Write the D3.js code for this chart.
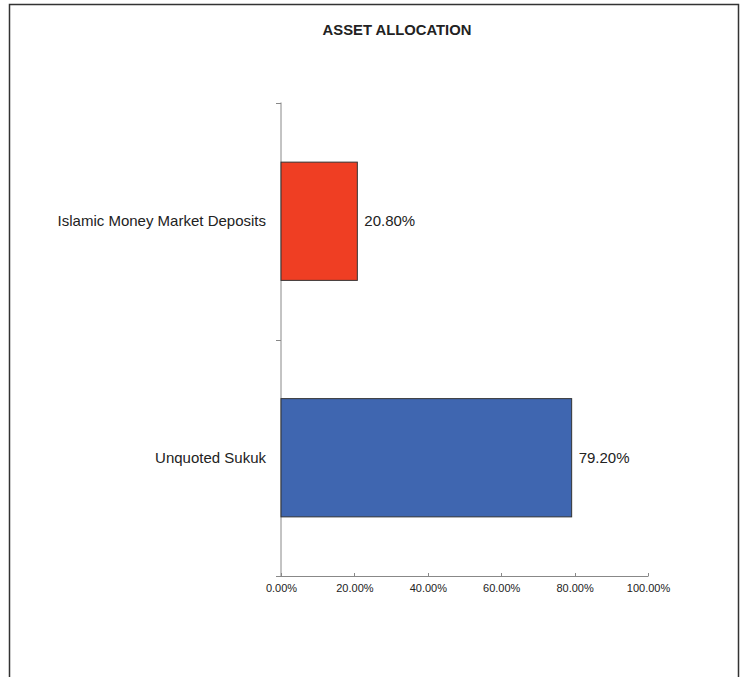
<!DOCTYPE html>
<html><head><meta charset="utf-8">
<script src="https://cdn.jsdelivr.net/npm/d3@7"></script>
<style>body{margin:0;background:#fff}svg{display:block;font-family:"Liberation Sans",Arial,sans-serif}</style>
</head><body>
<script>
const title = "ASSET ALLOCATION";
const categories = ["Islamic Money Market Deposits", "Unquoted Sukuk"];
const values = [20.80, 79.20];
const barColors = ["#EF3E23", "#3F66B0"];
const tickValues = [0, 20, 40, 60, 80, 100];

const W = 744, H = 677;
const svg = d3.select("body").append("svg").attr("width", W).attr("height", H);

svg.append("path").attr("d", `M9.5,${H} V4.5 H738.5 V${H}`).attr("fill","none").attr("stroke","#333").attr("stroke-width",1.5);

svg.append("text").attr("x", 397).attr("y", 35).attr("text-anchor","middle")
  .attr("font-weight","bold").attr("font-size",14.8).attr("fill","#222").text(title);

const x = d3.scaleLinear().domain([0,100]).range([281, 648]);
const y = d3.scaleBand().domain(categories).range([103, 576]).paddingInner(0.5).paddingOuter(0.25);

// y axis
svg.append("line").attr("x1",281).attr("x2",281).attr("y1",102.5).attr("y2",576).attr("stroke","#888");
const yTicks = [103, (103+576)/2, 576];
yTicks.forEach(t => svg.append("line").attr("x1",276).attr("x2",281).attr("y1",Math.round(t)+0.5).attr("y2",Math.round(t)+0.5).attr("stroke","#888"));

// x axis
const xAxis = d3.axisBottom(x).tickValues(tickValues).tickSize(0).tickFormat(d => d.toFixed(2) + "%");
const gx = svg.append("g").attr("transform","translate(0,576)").call(xAxis);
gx.select(".domain").attr("stroke","#888").attr("d","M276,0.5H648.5");
gx.selectAll(".tick text").attr("font-size",11).attr("fill","#222").attr("dy","0").attr("y",16).attr("font-family","Liberation Sans, Arial, sans-serif");
tickValues.forEach(v => svg.append("line").attr("x1",Math.round(x(v))+0.5).attr("x2",Math.round(x(v))+0.5).attr("y1",573).attr("y2",576).attr("stroke","#888"));

// bars
svg.selectAll("rect.bar").data(categories).enter().append("rect")
  .attr("x", x(0)).attr("y", d => y(d))
  .attr("width", (d,i) => x(values[i]) - x(0)).attr("height", y.bandwidth())
  .attr("fill", (d,i) => barColors[i]).attr("stroke","#333").attr("stroke-width",1);

// value labels
svg.selectAll("text.val").data(categories).enter().append("text")
  .attr("x", (d,i) => x(values[i]) + 7).attr("y", d => y(d) + y.bandwidth()/2 + 5)
  .attr("font-size",15).attr("fill","#222").text((d,i) => values[i].toFixed(2) + "%");

// category labels
svg.selectAll("text.cat").data(categories).enter().append("text")
  .attr("x", 266).attr("y", d => y(d) + y.bandwidth()/2 + 5).attr("text-anchor","end")
  .attr("font-size",15).attr("fill","#222").text(d => d);
</script>
</body></html>
